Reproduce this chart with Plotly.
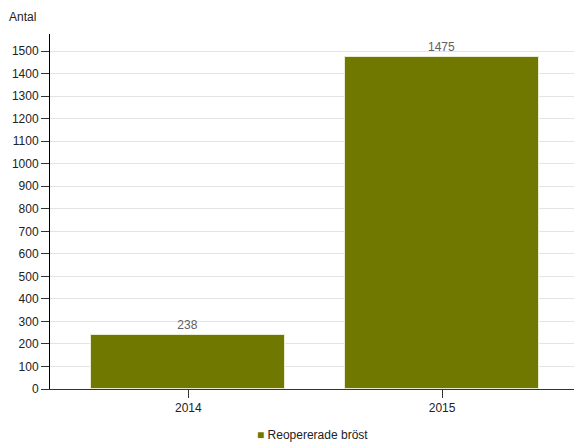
import plotly.graph_objects as go

categories = ["2014", "2015"]
values = [238, 1475]
series_name = "Reopererade bröst"
y_ticks = list(range(0, 1501, 100))

FONT = "Liberation Sans, Arial, sans-serif"

fig = go.Figure()
fig.add_trace(go.Bar(
    x=[0, 1], y=values, name=series_name,
    marker=dict(color="#707800", line=dict(color="#e8ecd0", width=1)),
    width=0.765,
    text=[str(v) for v in values], textposition="outside",
    textfont=dict(color="#606060", size=12, family=FONT),
    cliponaxis=False,
    showlegend=False,
    hoverinfo="skip",
))

fig.update_layout(
    width=574, height=442,
    margin=dict(l=50, r=0, t=34, b=53, autoexpand=False),
    paper_bgcolor="white", plot_bgcolor="white",
    font=dict(family=FONT, size=12, color="#222"),
    bargap=0,
    showlegend=False,
    xaxis=dict(
        tickmode="array", tickvals=[0, 1], ticktext=categories,
        range=[-0.545, 1.52], showgrid=False, automargin=False,
        showline=True, linecolor="#333", linewidth=1,
        ticks="outside", ticklen=8, tickcolor="#333",
        zeroline=False, tickfont=dict(size=12, color="#222"),
    ),
    yaxis=dict(
        range=[0, 1576], tickmode="array", tickvals=y_ticks,
        showgrid=True, gridcolor="#e4e4e4", gridwidth=1, automargin=False,
        showline=True, linecolor="#000", linewidth=1,
        ticks="outside", ticklen=8, tickcolor="#333",
        zeroline=False, tickfont=dict(size=12, color="#222"),
    ),
    annotations=[
        dict(text="Antal", xref="paper", yref="paper", x=0, xshift=-43,
             y=1, yshift=17, xanchor="left", yanchor="middle",
             showarrow=False, font=dict(size=12, color="#222")),
        dict(text='<span style="color:#707800">■</span> ' + series_name,
             xref="paper", yref="paper", x=0.5, y=0, xanchor="center",
             yanchor="middle", yshift=-46, showarrow=False,
             font=dict(size=12, color="#222")),
    ],
)

fig.write_html(
    "out.html",
    config={"displayModeBar": False},
    post_script="document.body.style.margin='0';document.body.style.overflow='hidden';",
)
